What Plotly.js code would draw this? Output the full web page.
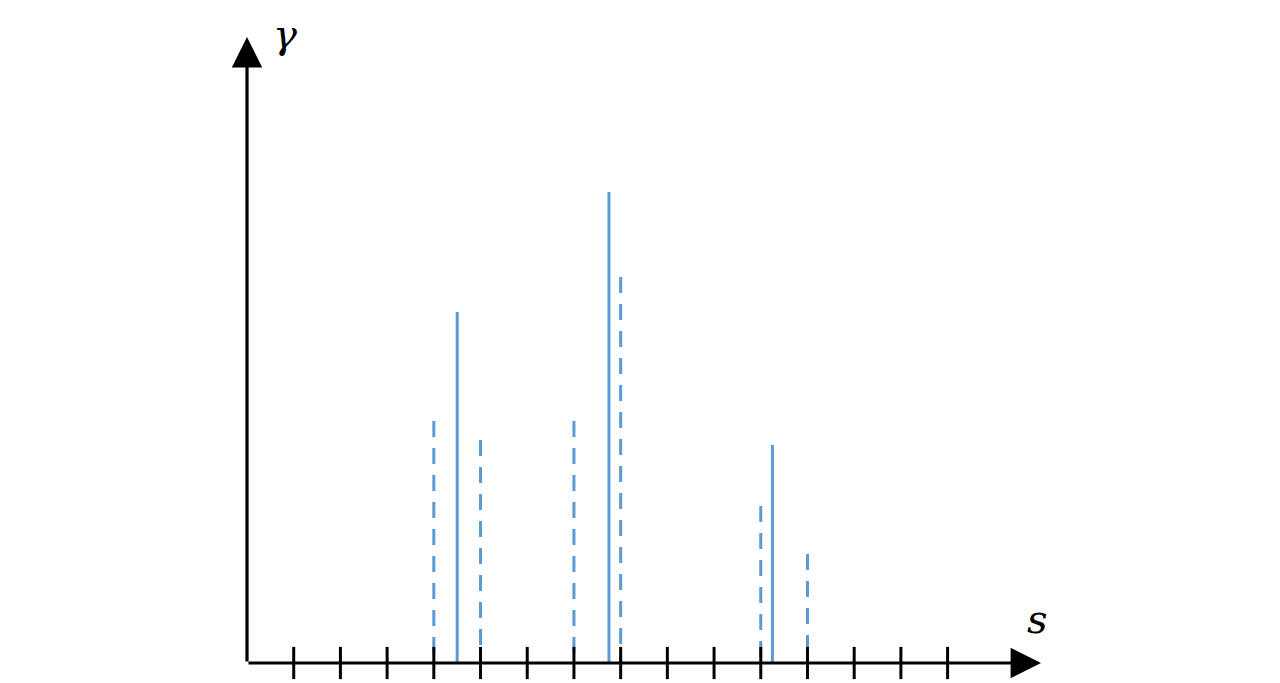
<!DOCTYPE html>
<html>
<head>
<meta charset="utf-8">
<script src="https://cdn.plot.ly/plotly-3.0.1.min.js"></script>
<style>html,body{margin:0;padding:0;background:#fff;}#chart{width:1280px;height:683px;}</style>
</head>
<body>
<div id="chart"></div>
<script>
// Data (y in arbitrary units)
const solidX = [4.5, 7.75, 11.25];
const solidY = [3.51, 4.71, 2.18];
const dashedX = [4, 5, 7, 8, 11, 12];
const dashedY = [2.42, 2.23, 2.42, 3.86, 1.57, 1.09];
const tickPositions = [1,2,3,4,5,6,7,8,9,10,11,12,13,14,15];
const xMax = 17;
const yMax = 6.26;

function stems(xs, ys) {
  const X = [], Y = [];
  xs.forEach((x, i) => { X.push(x, x, null); Y.push(ys[i], 0, null); });
  return {X, Y};
}
const s = stems(solidX, solidY);
const d = stems(dashedX, dashedY);
const blue = '#5b9bd5';
const serif = '"DejaVu Serif", "Liberation Serif", serif';

const traces = [
  {x: d.X, y: d.Y, mode: 'lines', line: {color: blue, width: 3, dash: '16px,11px'}, hoverinfo: 'skip', showlegend: false, cliponaxis: false},
  {x: s.X, y: s.Y, mode: 'lines', line: {color: blue, width: 3}, hoverinfo: 'skip', showlegend: false, cliponaxis: false},
  {x: tickPositions, y: tickPositions.map(() => 0), mode: 'markers',
   marker: {symbol: 'line-ns', size: 23, line: {color: 'black', width: 3}},
   hoverinfo: 'skip', showlegend: false, cliponaxis: false}
];

const hidden = {showgrid: false, zeroline: false, showline: false, showticklabels: false, ticks: ''};
const layout = {
  width: 1280, height: 683,
  margin: {l: 247, r: 239, t: 37, b: 20},
  paper_bgcolor: '#fff', plot_bgcolor: '#fff',
  xaxis: Object.assign({range: [0, xMax]}, hidden),
  yaxis: Object.assign({range: [0, yMax]}, hidden),
  annotations: [
    {x: xMax, y: 0, ax: 0, ay: 0, xref: 'x', yref: 'y', axref: 'x', ayref: 'y', text: '', showarrow: true,
     arrowhead: 2, arrowsize: 1.9, arrowwidth: 3.2, arrowcolor: 'black'},
    {x: 0, y: yMax, ax: 0, ay: 0, xref: 'x', yref: 'y', axref: 'x', ayref: 'y', text: '', showarrow: true,
     arrowhead: 2, arrowsize: 1.9, arrowwidth: 3.2, arrowcolor: 'black'},
    {x: 0.048, y: 1.005, xref: 'paper', yref: 'paper', xanchor: 'center', yanchor: 'middle', text: 'γ', showarrow: false,
     font: {family: serif, size: 40, color: 'black', style: 'italic'}},
    {x: 0.995, y: 0.07, xref: 'paper', yref: 'paper', xanchor: 'center', yanchor: 'middle', text: 's', showarrow: false,
     font: {family: serif, size: 40, color: 'black', style: 'italic'}}
  ]
};
Plotly.newPlot('chart', traces, layout, {displayModeBar: false, staticPlot: true});
</script>
</body>
</html>
